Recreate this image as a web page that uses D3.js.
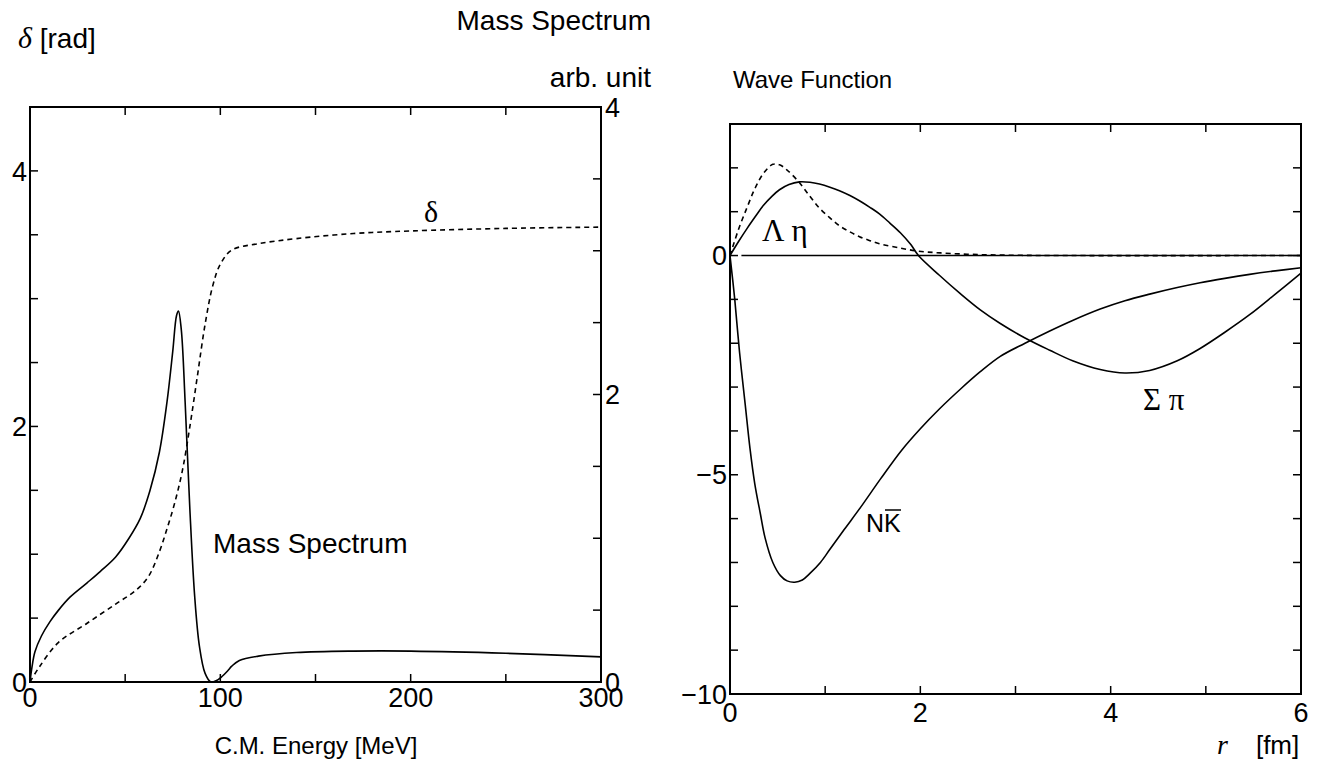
<!DOCTYPE html>
<html>
<head>
<meta charset="utf-8">
<script src="https://cdn.jsdelivr.net/npm/d3@7"></script>
<style>
  body { margin: 0; background: #fff; }
  svg { display: block; }
  text { font-family: "Liberation Sans", Arial, sans-serif; fill: #000; font-size: 24px; }
  .tick-label { font-size: 27px; }
  .greek { font-family: "Liberation Serif", "Times New Roman", serif; }
  .frame { fill: none; stroke: #000; stroke-width: 2; }
  .tick { stroke: #000; stroke-width: 1.5; }
  .curve { fill: none; stroke: #000; stroke-width: 1.6; }
  .dashed { stroke-dasharray: 5,4; }
</style>
</head>
<body>
<svg id="chart" width="1331" height="766"></svg>
<script>
// left panel: phase shift and mass spectrum vs C.M. energy
const energy  = [0, 5, 15, 30, 45, 55, 62, 68, 72, 76, 80, 84, 88, 92, 96, 100, 106, 120, 140, 170, 200, 250, 300]
const delta   = [0, 0.12, 0.31, 0.46, 0.61, 0.71, 0.82, 1.02, 1.2, 1.4, 1.65, 2.0, 2.4, 2.8, 3.1, 3.27, 3.38, 3.43, 3.47, 3.51, 3.53, 3.55, 3.56]

const massE    = [0, 1, 2.6, 6, 10.5, 15, 21, 30, 37, 45, 52, 58, 63, 68, 72, 75, 77, 78, 79.5, 81.5, 84, 86.5, 89, 92, 95, 98, 101, 104, 106, 110, 120, 140, 170, 200, 250, 300]
const massSpec = [0, 0.1, 0.21, 0.32, 0.42, 0.5, 0.59, 0.69, 0.77, 0.87, 1.0, 1.14, 1.33, 1.6, 1.95, 2.3, 2.55, 2.58, 2.45, 1.95, 1.2, 0.6, 0.25, 0.06, 0.0, 0.01, 0.04, 0.08, 0.11, 0.15, 0.18, 0.205, 0.215, 0.215, 0.2, 0.175]

// right panel: wave functions vs r
const rNK  = [0, 0.05, 0.1, 0.16, 0.21, 0.26, 0.32, 0.37, 0.45, 0.53, 0.6, 0.68, 0.76, 0.84, 0.95, 1.05, 1.2, 1.37, 1.58, 1.8, 2.0, 2.2, 2.42, 2.63, 2.84, 3.1, 3.36, 3.6, 3.89, 4.15, 4.41, 4.7, 4.94, 5.2, 5.46, 5.73, 6]
const waveNK = [0, -1.0, -2.2, -3.4, -4.4, -5.2, -5.9, -6.45, -7.0, -7.3, -7.42, -7.45, -7.4, -7.25, -7.0, -6.7, -6.25, -5.75, -5.1, -4.45, -3.95, -3.5, -3.05, -2.65, -2.3, -2.0, -1.72, -1.48, -1.22, -1.03, -0.88, -0.73, -0.62, -0.52, -0.43, -0.35, -0.28]

const rSP  = [0, 0.09, 0.18, 0.27, 0.35, 0.44, 0.52, 0.62, 0.73, 0.84, 0.94, 1.05, 1.15, 1.26, 1.36, 1.47, 1.57, 1.68, 1.79, 1.9, 1.98, 2.2, 2.42, 2.63, 2.84, 3.1, 3.36, 3.6, 3.89, 4.15, 4.41, 4.7, 4.94, 5.2, 5.46, 5.73, 6]
const waveSP = [0, 0.32, 0.62, 0.9, 1.14, 1.35, 1.5, 1.62, 1.68, 1.67, 1.63, 1.56, 1.48, 1.37, 1.25, 1.1, 0.95, 0.74, 0.52, 0.25, 0, -0.45, -0.87, -1.24, -1.55, -1.88, -2.16, -2.4, -2.6, -2.68, -2.62, -2.4, -2.12, -1.75, -1.35, -0.88, -0.4]

const rLE  = [0, 0.09, 0.18, 0.26, 0.35, 0.45, 0.52, 0.6, 0.73, 0.84, 0.94, 1.05, 1.15, 1.26, 1.36, 1.47, 1.57, 1.79, 1.98, 2.21, 2.63, 3.06, 3.5, 6]
const waveLE = [0, 0.6, 1.1, 1.52, 1.87, 2.08, 2.07, 1.95, 1.66, 1.35, 1.08, 0.86, 0.68, 0.54, 0.43, 0.34, 0.27, 0.17, 0.1, 0.06, 0.02, 0.005, 0, 0]

const zeroLine = [[0.12, 0], [6, 0]]

const svg = d3.select("#chart")
const tickLen = 8

const xE = d3.scaleLinear().domain([0, 300]).range([30, 601])
const yD = d3.scaleLinear().domain([0, 4.5]).range([682, 107])
const yM = d3.scaleLinear().domain([0, 4]).range([682, 107])

const xR = d3.scaleLinear().domain([0, 6]).range([730, 1301])
const yW = d3.scaleLinear().domain([-10, 3]).range([694, 124])

// inward ticks on all four sides of a frame
function frame(g, x, yl, yr, xt, ylt, yrt) {
    const [x0, x1] = x.range()
    const [y0, y1] = yl.range()
    g.append("rect").attr("class", "frame")
        .attr("x", x0).attr("y", y1).attr("width", x1 - x0).attr("height", y0 - y1)
    xt.forEach(v => {
        g.append("line").attr("class", "tick").attr("x1", x(v)).attr("x2", x(v)).attr("y1", y0).attr("y2", y0 - tickLen)
        g.append("line").attr("class", "tick").attr("x1", x(v)).attr("x2", x(v)).attr("y1", y1).attr("y2", y1 + tickLen)
    })
    ylt.forEach(v => g.append("line").attr("class", "tick").attr("x1", x0).attr("x2", x0 + tickLen).attr("y1", yl(v)).attr("y2", yl(v)))
    yrt.forEach(v => g.append("line").attr("class", "tick").attr("x1", x1).attr("x2", x1 - tickLen).attr("y1", yr(v)).attr("y2", yr(v)))
}

const left = svg.append("g")
frame(left, xE, yD, yM, d3.range(50, 300, 50), d3.range(0.5, 4.5, 0.5), d3.range(0.5, 4, 0.5))
const right = svg.append("g")
frame(right, xR, yW, yW, d3.range(1, 6, 1), d3.range(-9, 3, 1), d3.range(-9, 3, 1))

// tick labels
function labels(g, vals, fx, fy, anchor, dy) {
    g.selectAll(null).data(vals).enter().append("text")
        .attr("class", "tick-label")
        .attr("x", fx).attr("y", fy)
        .attr("dy", dy)
        .attr("text-anchor", anchor)
        .text(d => d < 0 ? "\u2212" + Math.abs(d) : d)
}
labels(left, [0, 100, 200, 300], d => xE(d), 682 + 25, "middle", 0)
labels(left, [0, 2, 4], 27, d => yD(d), "end", "0.36em")
labels(left, [0, 2, 4], 605, d => yM(d), "start", "0.36em")
labels(right, [0, 2, 4, 6], d => xR(d), 694 + 28, "middle", 0)
labels(right, [0, -5, -10], 727, d => yW(d), "end", "0.36em")

// curves
const smooth = d3.curveCatmullRom.alpha(0.5)
const lineE = (xs, ys, y) => d3.line().x((d, i) => xE(xs[i])).y(d => y(d)).curve(smooth)(ys)
const lineR = (xs, ys) => d3.line().x((d, i) => xR(xs[i])).y(d => yW(d)).curve(smooth)(ys)

left.append("path").attr("class", "curve dashed").attr("d", lineE(energy, delta, yD))
left.append("path").attr("class", "curve").attr("d", lineE(massE, massSpec, yM))

right.append("path").attr("class", "curve")
    .attr("d", d3.line().x(d => xR(d[0])).y(d => yW(d[1]))(zeroLine))
right.append("path").attr("class", "curve").attr("d", lineR(rNK, waveNK))
right.append("path").attr("class", "curve").attr("d", lineR(rSP, waveSP))
right.append("path").attr("class", "curve dashed").attr("d", lineR(rLE, waveLE))

// titles and annotations
function label(x, y, size, txt, anchor) {
    return svg.append("text").attr("x", x).attr("y", y)
        .attr("text-anchor", anchor || "start")
        .style("font-size", size + "px").text(txt)
}
label(651, 30, 28, "Mass Spectrum", "end")
label(651, 87, 28, "arb. unit", "end")
const dl = label(18, 48, 28, null)
dl.append("tspan").attr("class", "greek").style("font-style", "italic").style("font-size", "30px").text("\u03b4")
dl.append("tspan").text(" [rad]")
label(733, 88, 24, "Wave Function")
label(316, 754, 24, "C.M. Energy [MeV]", "middle")
const rl = label(1217, 754, 26, null)
rl.append("tspan").attr("class", "greek").style("font-style", "italic").style("font-size", "28px").text("r")
rl.append("tspan").attr("dx", 28).text("[fm]")

label(424, 222, 30, "\u03b4").attr("class", "greek")
label(213, 553, 28, "Mass Spectrum")
label(762, 241, 31, "\u039b \u03b7").attr("class", "greek")
label(1143, 410, 31, "\u03a3 \u03c0").attr("class", "greek")
label(866, 532, 25, "NK")
svg.append("line").attr("class", "tick").attr("x1", 885).attr("x2", 901).attr("y1", 510).attr("y2", 510)
</script>
</body>
</html>
